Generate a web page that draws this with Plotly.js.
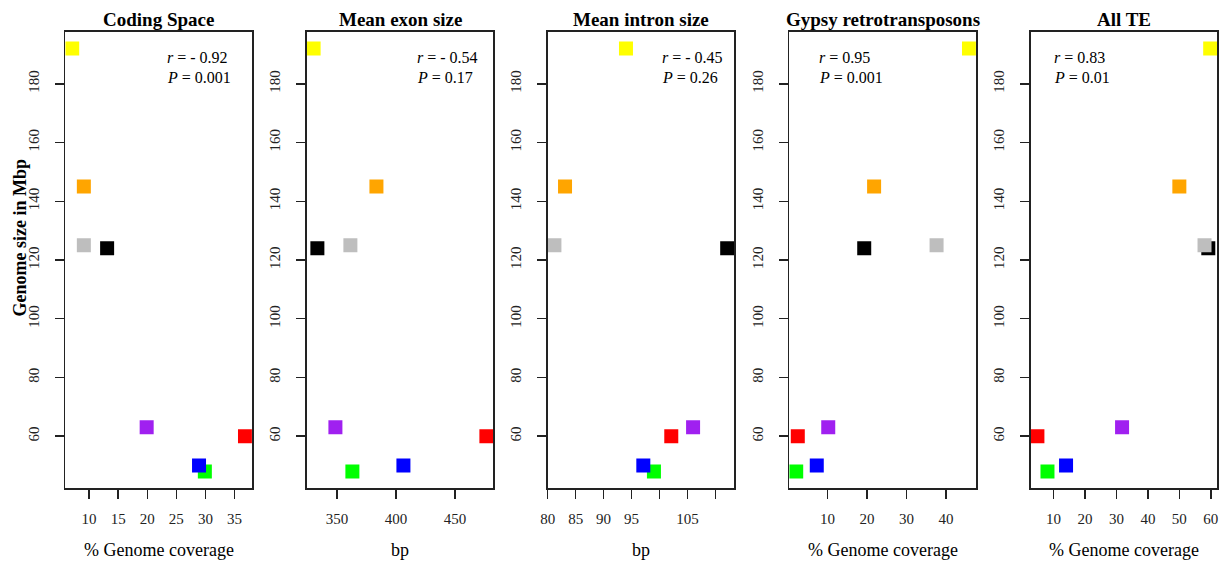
<!DOCTYPE html>
<html>
<head>
<meta charset="utf-8">
<script src="https://cdn.plot.ly/plotly-3.0.1.min.js"></script>
<style>html,body{margin:0;padding:0;background:#fff;}#chart{width:1229px;height:563px;}</style>
</head>
<body>
<div id="chart"></div>
<script>
// Species markers (draw order), colours
const speciesColors = ["#FFFF00", "#FFA500", "#000000", "#BEBEBE", "#A020F0", "#FF0000", "#00FF00", "#0000FF"];
// Genome size in Mbp
const genomeSize = [192, 145, 124, 125, 63, 60, 48, 50];
// Panel x-values
const codingSpace = [7.1, 9.1, 13.1, 9.1, 19.9, 36.8, 29.9, 28.9];
const meanExon = [330.1, 383.4, 333.3, 361.3, 348.6, 476.7, 363.0, 406.3];
const meanIntron = [94.0, 83.1, 112.1, 81.2, 106.0, 102.1, 99.0, 97.1];
const gypsy = [45.8, 21.8, 19.3, 37.6, 10.2, 2.5, 2.1, 7.3];
const allTE = [59.8, 50.0, 59.2, 58.0, 31.8, 4.9, 8.1, 14.0];

const panelTitles = ["Coding Space", "Mean exon size", "Mean intron size", "Gypsy retrotransposons", "All TE"];
const xTitles = ["% Genome coverage", "bp", "bp", "% Genome coverage", "% Genome coverage"];
const rValues = ["- 0.92", "- 0.54", "- 0.45", "0.95", "0.83"];
const pValues = ["0.001", "0.17", "0.26", "0.001", "0.01"];
const yTickVals = [60, 80, 100, 120, 140, 160, 180];
const xTickVals = [
  [10, 15, 20, 25, 30, 35],
  [350, 400, 450],
  [80, 85, 90, 95, 100, 105, 110],
  [10, 20, 30, 40],
  [10, 20, 30, 40, 50, 60]
];
const xTickText = [
  ["10", "15", "20", "25", "30", "35"],
  ["350", "400", "450"],
  ["80", "85", "90", "95", "", "105", ""],
  ["10", "20", "30", "40"],
  ["10", "20", "30", "40", "50", "60"]
];
const yTitle = "Genome size in Mbp";

const xSeries = [codingSpace, meanExon, meanIntron, gypsy, allTE];

// layout helpers
const W = 1229, H = 563;
const boxLeft = [65.3, 306.7, 547.5, 789.3, 1030.5];
const boxW = 186.6;
const boxTop = 31.7, boxBottom = 488.3;
const annotX = [0.535, 0.578, 0.604, 0.15, 0.115];
const FONT = "Liberation Serif";

function padRange(arr) {
  const mn = Math.min(...arr), mx = Math.max(...arr);
  const d = (mx - mn) * 0.04;
  return [mn - d, mx + d];
}

const traces = [];
const layout = {
  width: W, height: H,
  margin: {l: 0, r: 0, t: 0, b: 0},
  paper_bgcolor: "#fff", plot_bgcolor: "#fff",
  showlegend: false,
  font: {family: FONT, color: "#000"},
  annotations: []
};

const yRange = padRange(genomeSize);

for (let i = 0; i < 5; i++) {
  const sfx = i === 0 ? "" : String(i + 1);
  traces.push({
    type: "scatter", mode: "markers",
    x: xSeries[i], y: genomeSize,
    xaxis: "x" + sfx, yaxis: "y" + sfx,
    marker: {symbol: "square", size: 14, color: speciesColors, line: {width: 0}},
    hoverinfo: "x+y"
  });
  const axCommon = {
    showgrid: false, zeroline: false,
    showline: true, mirror: true, linecolor: "#222", linewidth: 1.6,
    ticks: "outside", ticklen: 9, tickwidth: 1.4, tickcolor: "#222",
    tickfont: {family: FONT, size: 15, color: "#222"},
    automargin: false, fixedrange: true
  };
  layout["xaxis" + sfx] = Object.assign({}, axCommon, {
    domain: [boxLeft[i] / W, (boxLeft[i] + boxW) / W],
    range: padRange(xSeries[i]),
    tickmode: "array", tickvals: xTickVals[i], ticktext: xTickText[i],
    anchor: "y" + sfx, ticklabelstandoff: 7
  });
  layout["yaxis" + sfx] = Object.assign({}, axCommon, {
    domain: [1 - boxBottom / H, 1 - boxTop / H],
    range: yRange,
    tickmode: "array", tickvals: yTickVals,
    tickangle: -90,
    anchor: "x" + sfx, ticklabelstandoff: 10
  });
  const cx = (boxLeft[i] + boxW / 2) / W;
  layout.annotations.push({
    text: panelTitles[i], xref: "paper", yref: "paper",
    x: cx, y: 1 - 19.5 / H, xanchor: "center", yanchor: "middle",
    showarrow: false, font: {family: FONT, size: 19, weight: "bold", color: "#000"}
  });
  layout.annotations.push({
    text: xTitles[i], xref: "paper", yref: "paper",
    x: cx, y: 1 - 550 / H, xanchor: "center", yanchor: "middle",
    showarrow: false, font: {family: FONT, size: 18, color: "#000"}
  });
  layout.annotations.push({
    text: "<i>r</i> = " + rValues[i], xref: "x" + sfx + " domain", yref: "paper",
    x: annotX[i], y: 1 - 57.3 / H, xanchor: "left", yanchor: "middle",
    showarrow: false, font: {family: FONT, size: 16, color: "#000"}
  });
  layout.annotations.push({
    text: "<i>P</i> = " + pValues[i], xref: "x" + sfx + " domain", yref: "paper",
    x: annotX[i], y: 1 - 77.3 / H, xanchor: "left", yanchor: "middle",
    showarrow: false, font: {family: FONT, size: 16, color: "#000"}
  });
}
layout.annotations.push({
  text: yTitle, xref: "paper", yref: "paper",
  x: 19 / W, y: 1 - 237.5 / H, xanchor: "center", yanchor: "middle",
  textangle: -90, showarrow: false,
  font: {family: FONT, size: 18, weight: "bold", color: "#000"}
});

Plotly.newPlot("chart", traces, layout, {displayModeBar: false, staticPlot: true});
</script>
</body>
</html>
